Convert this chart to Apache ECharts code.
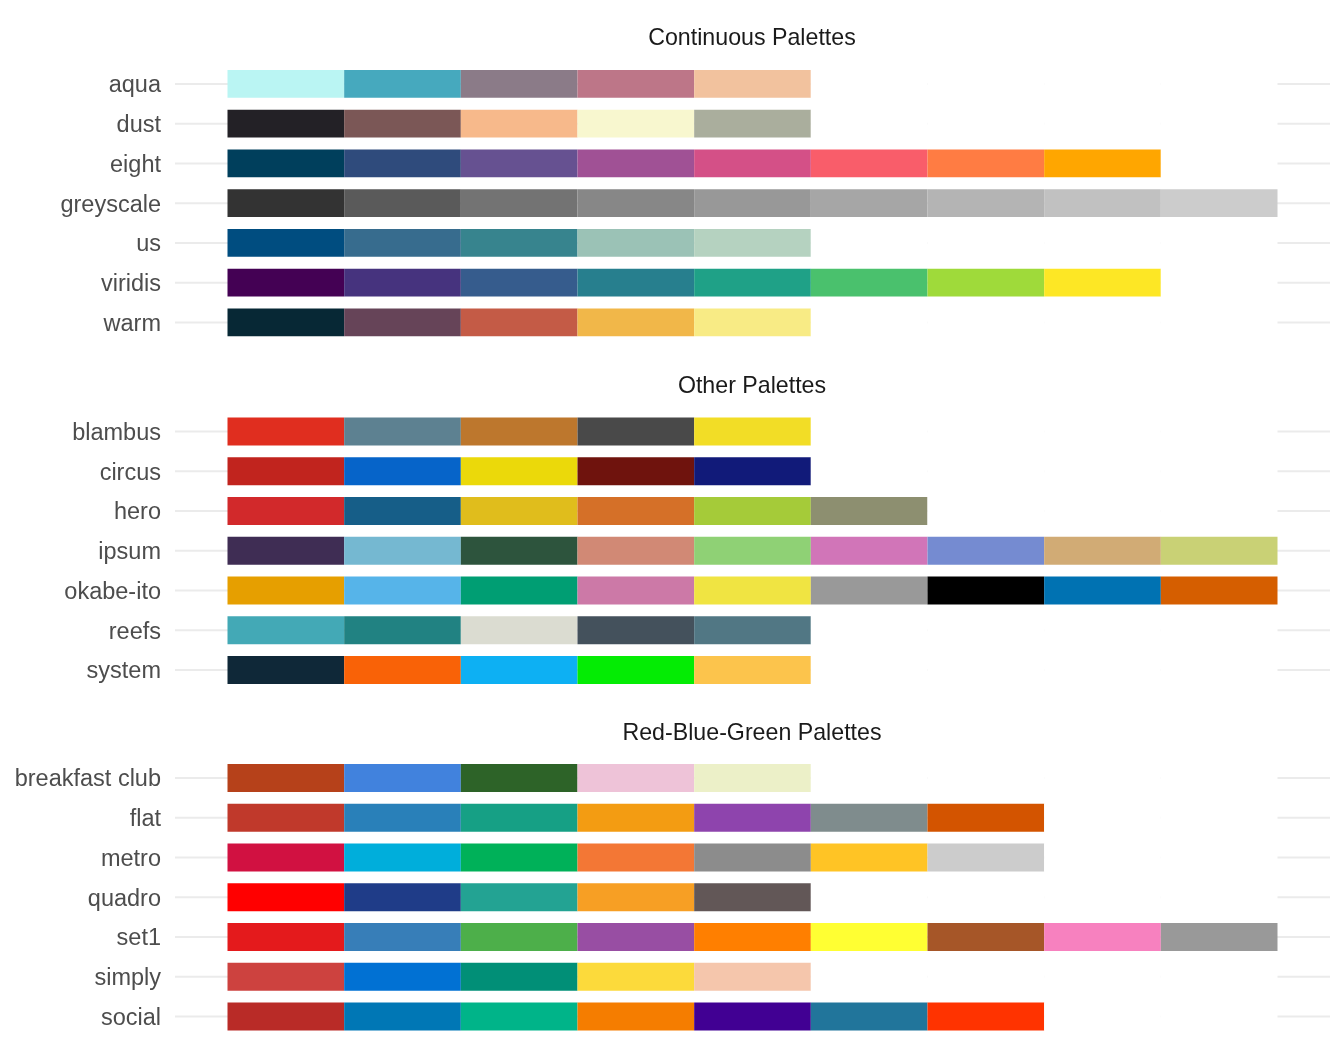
<!DOCTYPE html>
<html>
<head>
<meta charset="utf-8">
<script src="https://cdn.jsdelivr.net/npm/echarts@6/dist/echarts.min.js"></script>
<style>html,body{margin:0;padding:0;background:#fff;}#c{width:1344px;height:1056px;}</style>
</head>
<body>
<div id="c"></div>
<script>
// Panel titles and palette names
const panelTitles = ['Continuous Palettes', 'Other Palettes', 'Red-Blue-Green Palettes'];
const continuousNames = ['aqua', 'dust', 'eight', 'greyscale', 'us', 'viridis', 'warm'];
const otherNames = ['blambus', 'circus', 'hero', 'ipsum', 'okabe-ito', 'reefs', 'system'];
const rbgNames = ['breakfast club', 'flat', 'metro', 'quadro', 'set1', 'simply', 'social'];

// Palette colours
const aqua = ['#BAF5F3', '#46A9BE', '#8B7B88', '#BD7688', '#F2C29E'];
const dust = ['#232126', '#7B5756', '#F7B98B', '#F8F7CF', '#AAAE9D'];
const eight = ['#003F5C', '#2F4B7C', '#665191', '#A05195', '#D45087', '#F95D6A', '#FF7C43', '#FFA600'];
const greyscale = ['#333333', '#5A5A5A', '#737373', '#878787', '#989898', '#A6A6A6', '#B4B4B4', '#C1C1C1', '#CCCCCC'];
const us = ['#004D80', '#376C8E', '#37848E', '#9BC2B6', '#B5D2C0'];
const viridis = ['#440154', '#46337E', '#365C8D', '#277F8E', '#1FA187', '#4AC16D', '#9FDA3A', '#FDE725'];
const warm = ['#072835', '#664458', '#C45B46', '#F1B749', '#F8EB85'];

const blambus = ['#E02E1F', '#5D8191', '#BD772D', '#494949', '#F2DD26'];
const circus = ['#C1241E', '#0664C9', '#EBD90A', '#6F130D', '#111A79'];
const hero = ['#D2292B', '#165E88', '#E0BD1C', '#D57028', '#A5CB39', '#8D8F70'];
const ipsum = ['#3F2D54', '#75B8D1', '#2D543D', '#D18975', '#8FD175', '#D175B8', '#758BD1', '#D1AB75', '#C9D175'];
const okabeIto = ['#E69F00', '#56B4E9', '#009E73', '#CC79A7', '#F0E442', '#999999', '#000000', '#0072B2', '#D55E00'];
const reefs = ['#43A9B6', '#218282', '#DBDCD1', '#44515C', '#517784'];
const system = ['#0F2838', '#F96207', '#0DB0F3', '#04EC04', '#FCC44C'];

const breakfastClub = ['#B6411A', '#4182DD', '#2D6328', '#EEC3D8', '#ECF0C8'];
const flat = ['#C0392B', '#2980B9', '#16A085', '#F39C12', '#8E44AD', '#7F8C8D', '#D35400'];
const metro = ['#D11141', '#00AEDB', '#00B159', '#F37735', '#8C8C8C', '#FFC425', '#CCCCCC'];
const quadro = ['#FF0000', '#1F3C88', '#23A393', '#F79F24', '#625757'];
const set1 = ['#E41A1C', '#377EB8', '#4DAF4A', '#984EA3', '#FF7F00', '#FFFF33', '#A65628', '#F781BF', '#999999'];
const simply = ['#CD423F', '#0171D3', '#018F77', '#FCDA3B', '#F5C6AC'];
const social = ['#B92B27', '#0077B5', '#00B489', '#F57D00', '#410093', '#21759B', '#FF3300'];

const panelNames = [continuousNames, otherNames, rbgNames];
const panelPalettes = [
  [aqua, dust, eight, greyscale, us, viridis, warm],
  [blambus, circus, hero, ipsum, okabeIto, reefs, system],
  [breakfastClub, flat, metro, quadro, set1, simply, social]
];
const maxColors = 9;

const chart = echarts.init(document.getElementById('c'));
const font = 'Liberation Sans, Arial, Helvetica, sans-serif';
const gridTops = [64, 411.6, 758.1];
const bandH = 39.75;
const titleCenters = [37.5, 385, 732];

const grids = [], xAxes = [], yAxes = [], series = [], titles = [];
for (let p = 0; p < 3; p++) {
  grids.push({ left: 175, width: 1155, top: gridTops[p], height: bandH * 7, containLabel: false });
  xAxes.push({ type: 'value', gridIndex: p, min: -0.45, max: 9.45, show: false });
  yAxes.push({
    type: 'category', gridIndex: p, data: panelNames[p], inverse: true,
    axisLine: { show: false }, axisTick: { show: false }, splitLine: { show: false },
    axisLabel: {
      margin: 14,
      formatter: '{a|{value}}',
      rich: { a: { color: '#4D4D4D', fontSize: 23.5, fontFamily: font, padding: [4, 0, 0, 0] } }
    }
  });
  titles.push({
    text: panelTitles[p], left: 747, textAlign: 'center', top: titleCenters[p] - 15.5,
    textStyle: { color: '#1A1A1A', fontSize: 23.2, fontWeight: 'normal', fontFamily: font, lineHeight: 24 }
  });
  // horizontal gridlines at each category centre
  series.push({
    type: 'custom', xAxisIndex: p, yAxisIndex: p, z: 1, silent: true,
    data: panelNames[p].map((n, i) => [0, i]),
    renderItem: function (params, api) {
      const pt = api.coord([0, api.value(1)]);
      const cs = params.coordSys;
      return {
        type: 'line',
        shape: { x1: cs.x, y1: pt[1], x2: cs.x + cs.width, y2: pt[1] },
        style: { stroke: '#EBEBEB', lineWidth: 2 }
      };
    }
  });
  for (let j = 0; j < maxColors; j++) {
    series.push({
      type: 'bar', stack: 'p' + p, xAxisIndex: p, yAxisIndex: p, barWidth: '70%', z: 2,
      silent: true, animation: false,
      data: panelPalettes[p].map(pal => ({ value: 1, itemStyle: { color: pal[j] || '#FFFFFF' } }))
    });
  }
}

chart.setOption({
  animation: false,
  backgroundColor: '#FFFFFF',
  title: titles,
  grid: grids,
  xAxis: xAxes,
  yAxis: yAxes,
  series: series
});
</script>
</body>
</html>
